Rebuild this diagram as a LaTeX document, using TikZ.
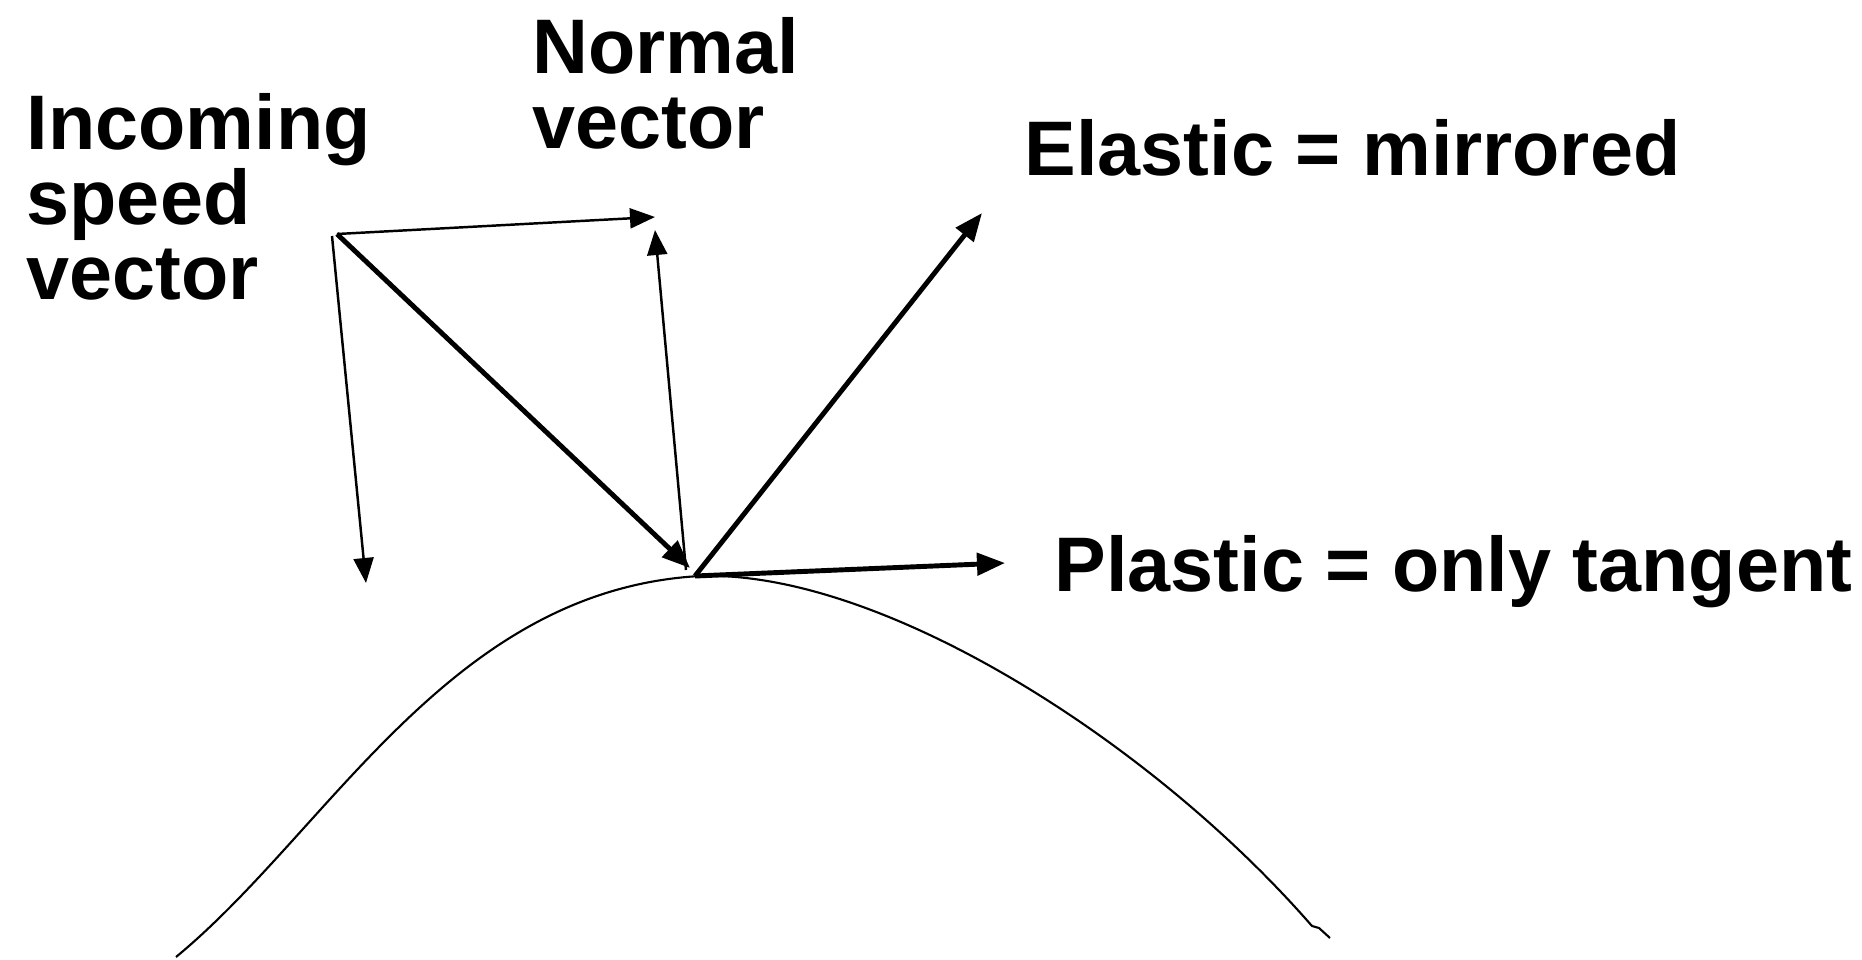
\documentclass[tikz,border=0pt]{standalone}
\usepackage{fontspec}
\setmainfont{Liberation Sans}
\usetikzlibrary{arrows.meta}

\begin{document}
\begin{tikzpicture}[x=0.01cm, y=-0.01cm]

    % Styles
    \tikzstyle{label_txt} = [inner sep=0pt, anchor=base west, align=left,
        font=\fontsize{22}{21.3}\selectfont\bfseries]
    \tikzstyle{thin_vec} = [line width=0.7pt, -{Triangle[length=0.25cm, width=0.2cm]}]
    \tikzstyle{thick_vec} = [line width=1.4pt, -{Triangle[length=0.28cm, width=0.22cm]}]

    % Canvas: 1862 x 960 px, y pointing down
    \useasboundingbox (0,0) rectangle (1862,960);

    % Points of the vectors
    \coordinate (origin) at (337,234);
    \coordinate (down_start) at (332,236);
    \coordinate (contact) at (695,576);
    \coordinate (tangent_tip) at (655,217);
    \coordinate (down_tip) at (366,583);
    \coordinate (normal_foot) at (686,570);
    \coordinate (normal_tip) at (655,230);
    \coordinate (incoming_tip) at (690,568);
    \coordinate (elastic_tip) at (982,213);
    \coordinate (plastic_tip) at (1005,563);

    % Surface
    \draw[line width=0.6pt] (176,957) .. controls (330,830) and (450,590) .. (700,576)
        .. controls (880,570) and (1150,740) .. (1312,926) -- (1319,928) -- (1330,938);

    % Decomposition of the incoming vector
    \draw[thin_vec] (origin) -- (tangent_tip);
    \draw[thin_vec] (down_start) -- (down_tip);
    \draw[thin_vec] (normal_foot) -- (normal_tip);

    % Incoming, elastic and plastic vectors
    \draw[thick_vec] (origin) -- (incoming_tip);
    \draw[thick_vec] (contact) -- (elastic_tip);
    \draw[thick_vec] (contact) -- (plastic_tip);

    % Labels (base = baseline of the last line)
    \node[label_txt] (incoming_lbl) at (26,299) {Incoming\\speed\\vector};
    \node[label_txt] (normal_lbl) at (532,148) {Normal\\vector};
    \node[label_txt] (elastic_lbl) at (1024,175) {Elastic = mirrored};
    \node[label_txt] (plastic_lbl) at (1054,591) {Plastic = only tangent};

\end{tikzpicture}
\end{document}
